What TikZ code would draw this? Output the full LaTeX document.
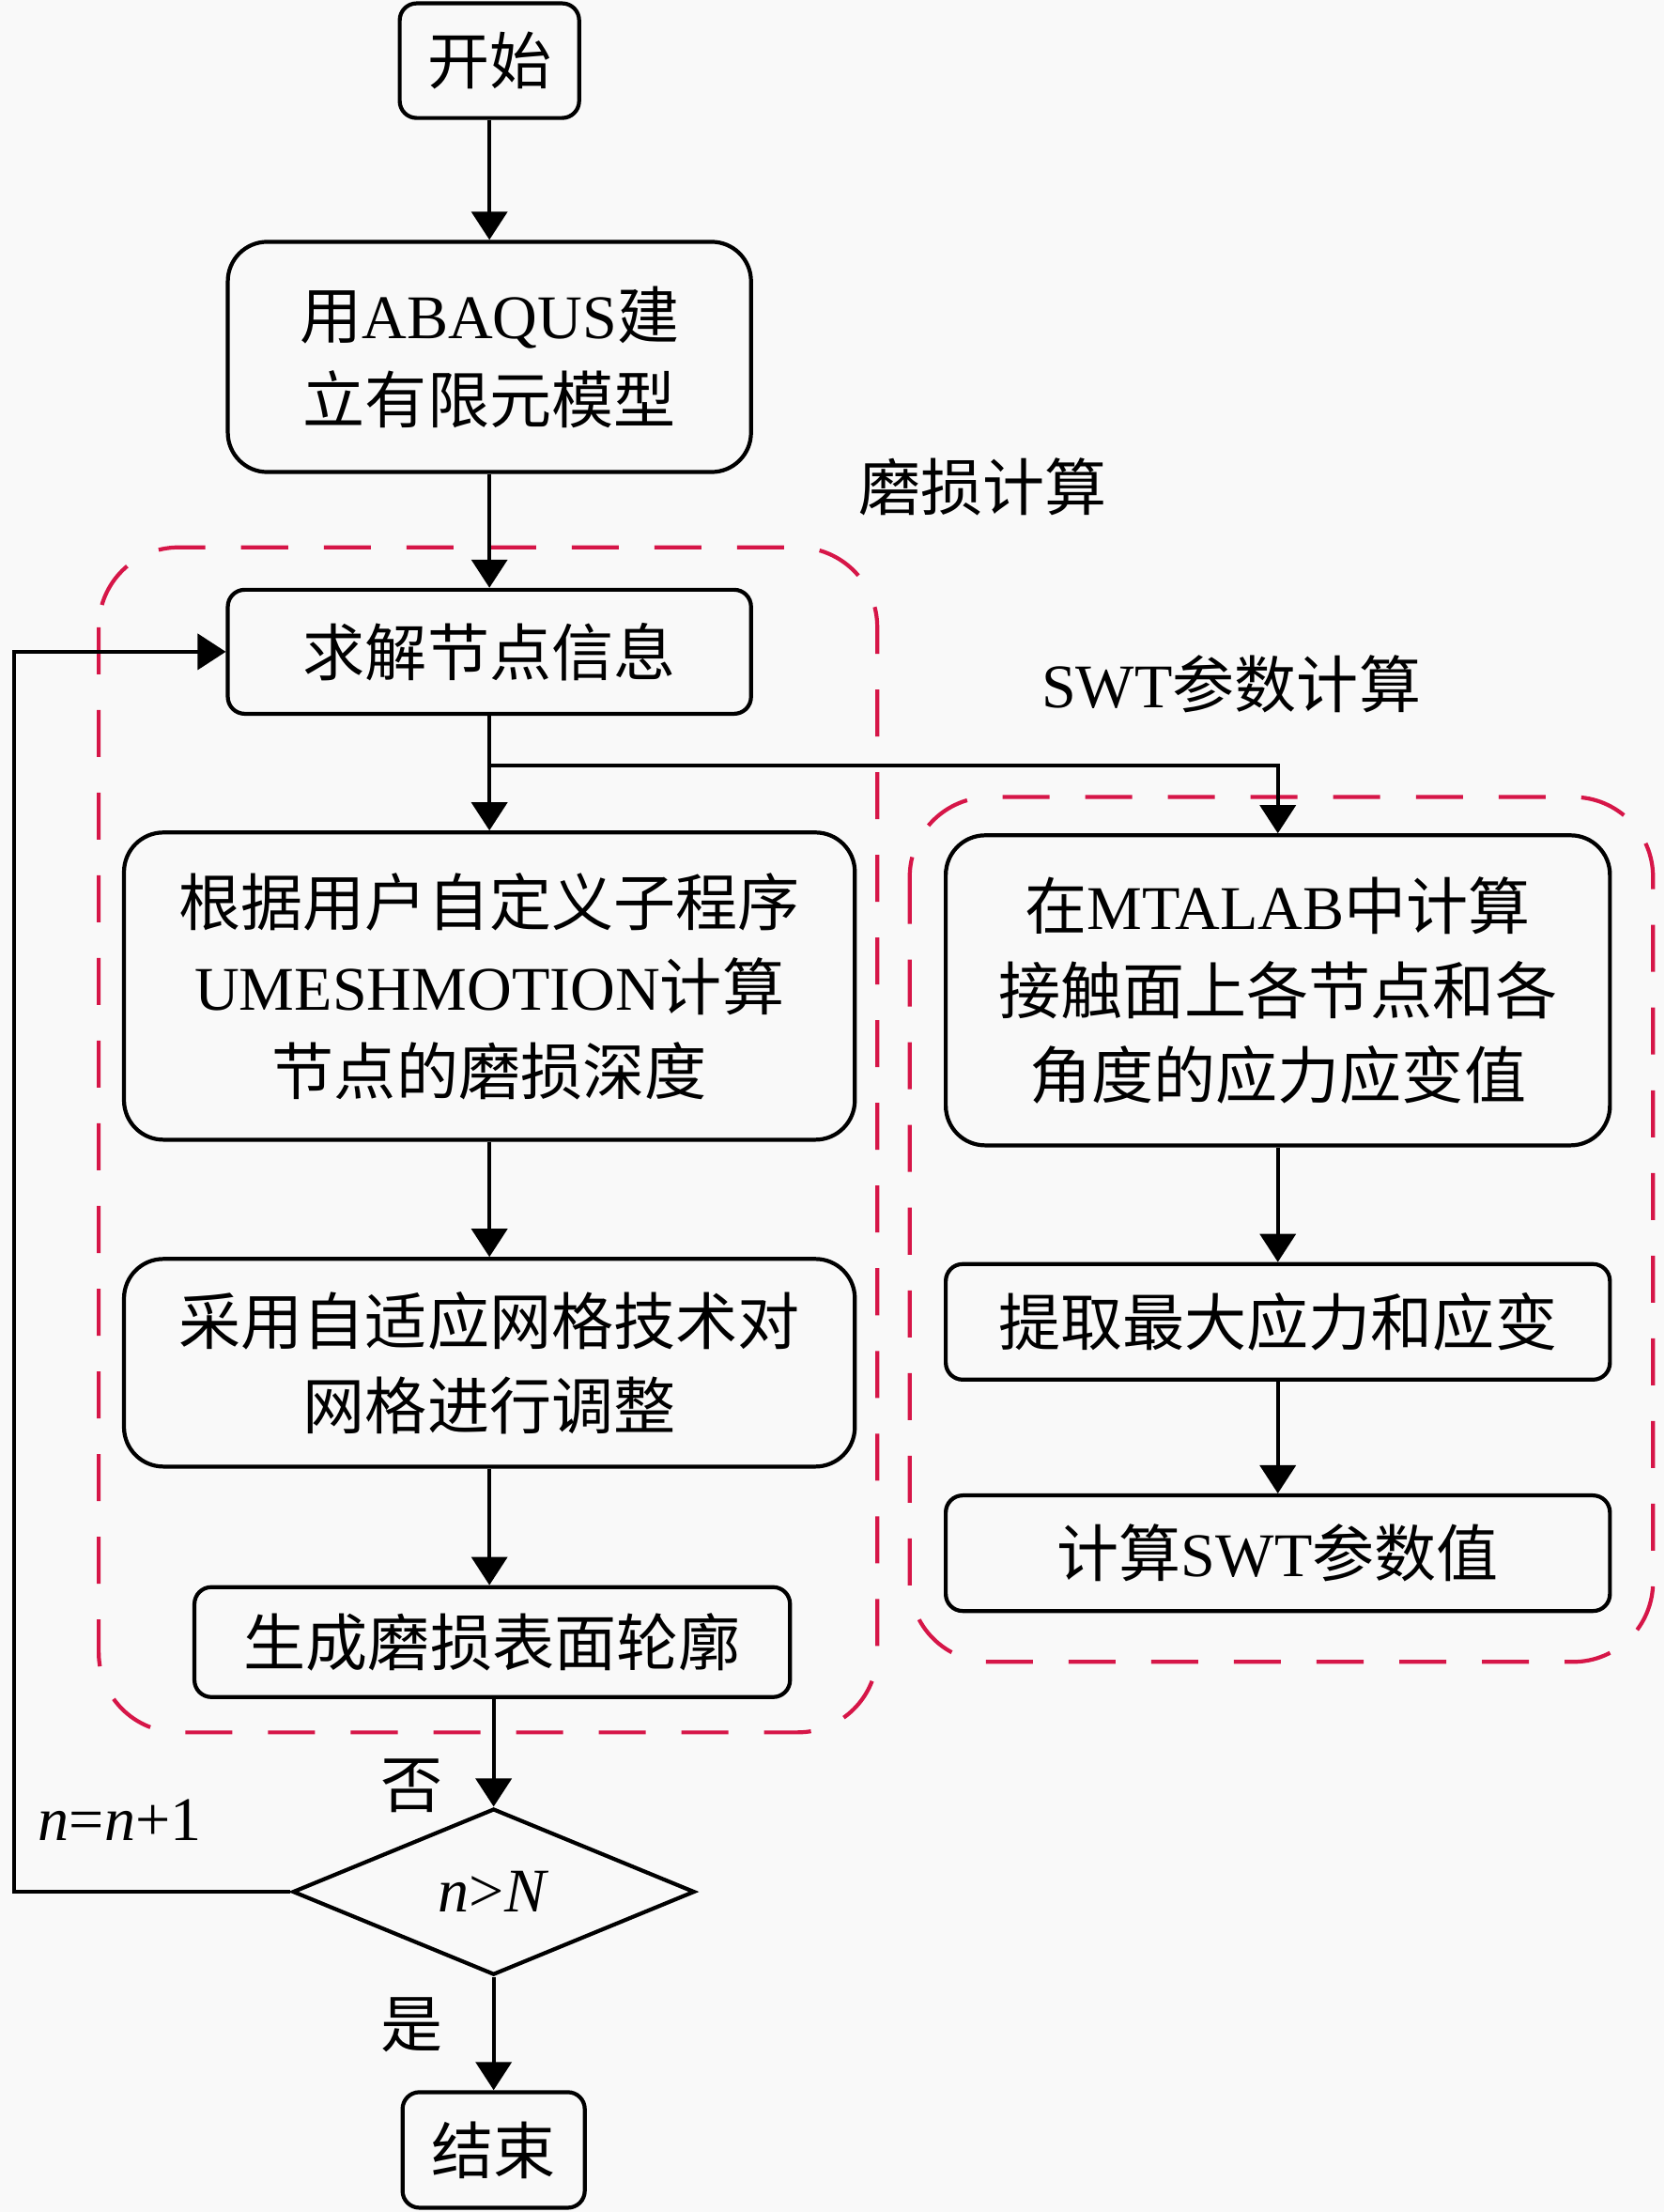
\documentclass[tikz,border=0pt]{standalone}
\usepackage{fontspec}
\setmainfont{Liberation Serif}
\newfontfamily\cjk{Noto Sans CJK SC}
\usetikzlibrary{arrows.meta, calc, positioning, shapes.geometric}

\definecolor{dashred}{RGB}{214,22,72}
\definecolor{paper}{RGB}{249,249,249}
\newcommand{\lat}[1]{{\rmfamily #1}}

\tikzset{
  every node/.style = {font=\cjk\fontsize{18.8}{25.6}\selectfont},
  smallbox/.style = {draw, line width=1.2pt, rounded corners=0.18cm, align=center, inner sep=0pt},
  bigbox/.style = {draw, line width=1.2pt, rounded corners=0.42cm, align=center, inner sep=0pt},
  decision/.style = {draw, line width=1.2pt, diamond, aspect=2.4, inner sep=0pt,
    minimum width=4.28cm, minimum height=1.77cm},
  arr/.style = {line width=1.1pt, -{Triangle[length=0.3cm, width=0.38cm]}},
  group/.style = {draw=dashred, line width=1.2pt, dash pattern=on 0.5cm off 0.38cm,
    rounded corners=0.85cm}
}

\begin{document}
\begin{tikzpicture}[x=0.015017cm, y=-0.015017cm]
  \fill[paper] (0,0) rectangle (1180,1568);
  \useasboundingbox (0,0) rectangle (1180,1568);

  % dashed frames
  \draw[group] (70,388) rectangle (622,1228);
  \draw[group] (645,565) rectangle (1172,1178);
  \node (wearlbl) at (697,345) {磨损计算};
  \node (swtlbl) at (873,485) {\lat{SWT}参数计算};

  % left column
  \node[smallbox, minimum width=1.91cm, minimum height=1.22cm] (start) at (347,43) {开始};
  \node[bigbox, minimum width=5.57cm, minimum height=2.45cm] (model) at (347,253)
    {用\lat{ABAQUS}建\\立有限元模型};
  \node[smallbox, minimum width=5.57cm, minimum height=1.32cm] (solve) at (347,462) {求解节点信息};
  \node[bigbox, minimum width=7.78cm, minimum height=3.27cm] (wear) at (347,699)
    {根据用户自定义子程序\\\lat{UMESHMOTION}计算\\节点的磨损深度};
  \node[bigbox, minimum width=7.78cm, minimum height=2.21cm] (mesh) at (347,966)
    {采用自适应网格技术对\\网格进行调整};
  \node[smallbox, minimum width=6.34cm, minimum height=1.17cm] (profile) at (349,1164) {生成磨损表面轮廓};
  \node[decision] (check) at (350,1341) {\lat{\textit{n}>\textit{N}}};
  \node[smallbox, minimum width=1.94cm, minimum height=1.23cm] (stop) at (350,1524) {结束};

  % right column
  \node[bigbox, minimum width=7.07cm, minimum height=3.30cm] (stress) at (906,702)
    {在\lat{MTALAB}中计算\\接触面上各节点和各\\角度的应力应变值};
  \node[smallbox, minimum width=7.07cm, minimum height=1.23cm] (peak) at (906,937) {提取最大应力和应变};
  \node[smallbox, minimum width=7.07cm, minimum height=1.23cm] (swt) at (906,1101) {计算\lat{SWT}参数值};

  % labels
  \node (nolbl) at (292,1266) {否};
  \node (yeslbl) at (292,1435) {是};
  \node (inclbl) at (85,1290) {\lat{\textit{n}=\textit{n}+1}};

  % connectors
  \draw[arr] (start) -- (model);
  \draw[arr] (model) -- (solve);
  \draw[arr] (solve) -- (wear);
  \coordinate (fork) at ($(solve.south)+(0,35)$);
  \draw[arr] (fork) -| (stress.north);
  \draw[arr] (wear) -- (mesh);
  \draw[arr] (mesh.south) -- (mesh.south |- profile.north);
  \draw[arr] (profile.south -| check.north) -- (check.north);
  \draw[arr] (check) -- (stop);
  \draw[arr] (stress) -- (peak);
  \draw[arr] (peak) -- (swt);
  \coordinate (loop) at (10,1341);
  \draw[arr] (check.west) -- (loop) |- (solve.west);
\end{tikzpicture}
\end{document}
